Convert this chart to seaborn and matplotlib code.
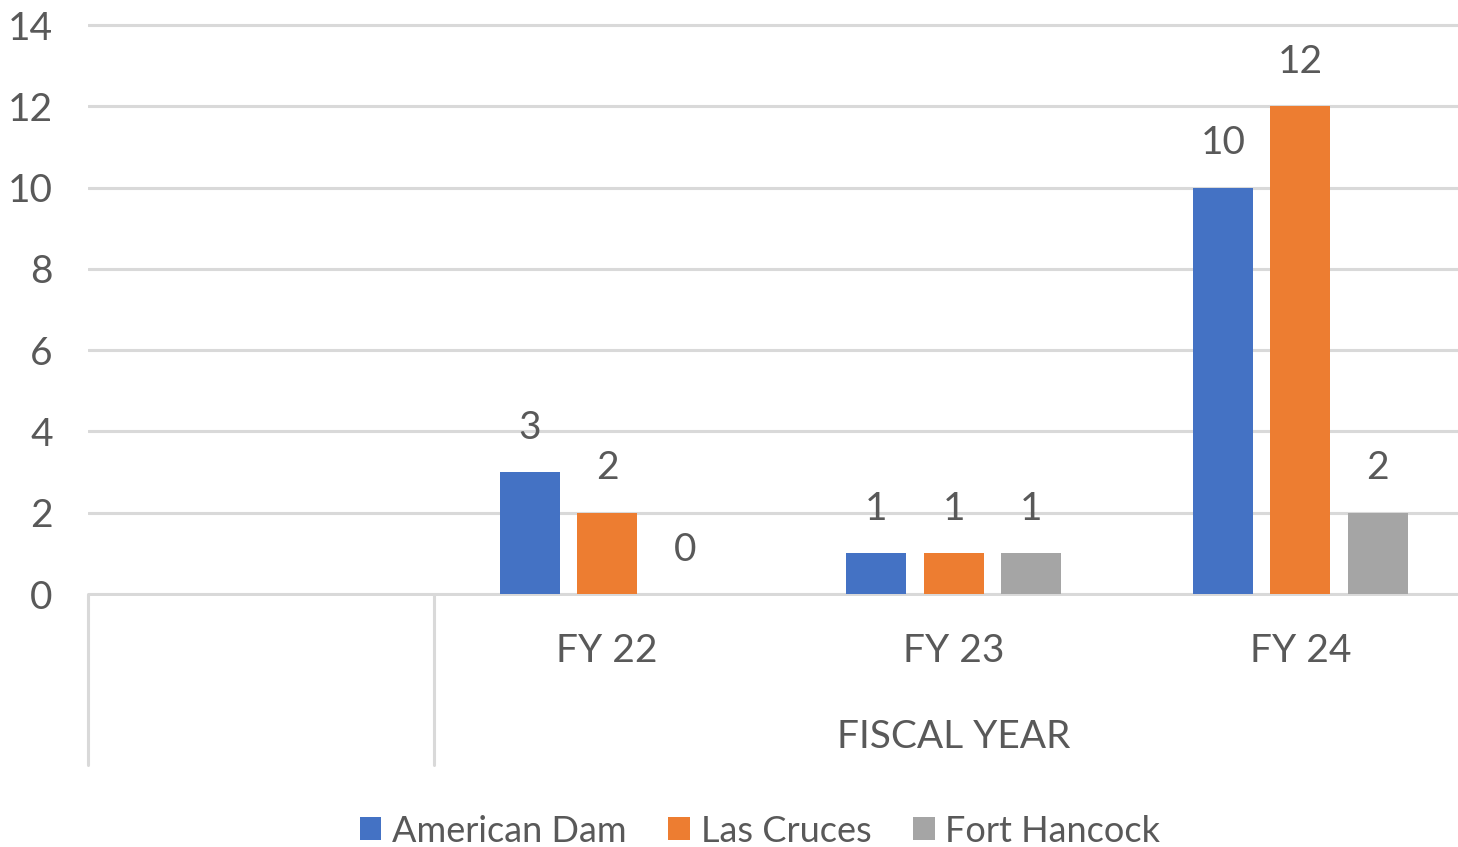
import matplotlib
matplotlib.use("Agg")
import matplotlib.pyplot as plt
import matplotlib.transforms as mtransforms
from matplotlib.patches import Patch
from matplotlib.lines import Line2D
import seaborn as sns
import pandas as pd

years = ["FY 22", "FY 23", "FY 24"]
sites = ["American Dam", "Las Cruces", "Fort Hancock"]
american_dam = [3, 1, 10]
las_cruces = [2, 1, 12]
fort_hancock = [0, 1, 2]
group_label = "FISCAL YEAR"
yticks = [0, 2, 4, 6, 8, 10, 12, 14]
colors = ["#4472C4", "#ED7D31", "#A5A5A5"]

df = pd.DataFrame({
    "year": years * 3,
    "site": [sites[0]] * 3 + [sites[1]] * 3 + [sites[2]] * 3,
    "value": american_dam + las_cruces + fort_hancock,
})

sns.set_theme(style="white")
plt.rcParams["font.family"] = ["Lato", "DejaVu Sans"]
TXT = "#595959"
FS = 28

W, H = 1458, 847
fig = plt.figure(figsize=(W / 100, H / 100), dpi=100)
ppu = (594 - 25) / 14.0
ymin, ymax = -0.05, 14.05
x0, x1 = 87.5, 1473.5
ybot = (H - 594) + ymin * ppu
ytop = (H - 25) + (ymax - 14) * ppu
ax = fig.add_axes([x0 / W, ybot / H, (x1 - x0) / W, (ytop - ybot) / H])

sns.barplot(data=df, x="year", y="value", hue="site", order=years,
            hue_order=sites, palette=colors, width=0.67, gap=0.225,
            saturation=1, ax=ax, legend=False, linewidth=0)

ax.set_xlim(-1.5, 2.5)
ax.set_ylim(ymin, ymax)
for s in ax.spines.values():
    s.set_visible(False)
ax.set_yticks(yticks)
ax.set_yticklabels([str(t) for t in yticks], fontsize=FS, color=TXT)
ax.tick_params(axis="y", length=0, pad=25)
ax.set_xticks([])
ax.set_xlabel("")
ax.set_ylabel("")
ax.yaxis.grid(True, color="#D9D9D9", linewidth=2.2)
ax.set_axisbelow(True)

for cont in ax.containers:
    ax.bar_label(cont, fmt="%d", fontsize=FS, color=TXT, padding=19)

trans = mtransforms.blended_transform_factory(ax.transData, fig.transFigure)
for i, y in enumerate(years):
    ax.text(i, (H - 651) / H, y, transform=trans, ha="center", va="center",
            fontsize=FS, color=TXT)
ax.text(1, (H - 737) / H, group_label, transform=trans, ha="center",
        va="center", fontsize=FS, color=TXT)
for xs in (-1.5, -0.5, 2.5):
    ax.add_line(Line2D([xs, xs], [(H - 594) / H, (H - 765) / H],
                       transform=trans, color="#D9D9D9", linewidth=2.2,
                       clip_on=False))

handles = [Patch(facecolor=c, edgecolor="none") for c in colors]
leg = fig.legend(handles, sites, loc="center", bbox_to_anchor=(760 / W, 16 / H),
                 ncol=3, frameon=False, fontsize=26, handlelength=0.6,
                 handleheight=0.6, handletextpad=0.3, columnspacing=1.15,
                 borderpad=0.1)
for t in leg.get_texts():
    t.set_color(TXT)

fig.savefig("out.png", dpi=100)
